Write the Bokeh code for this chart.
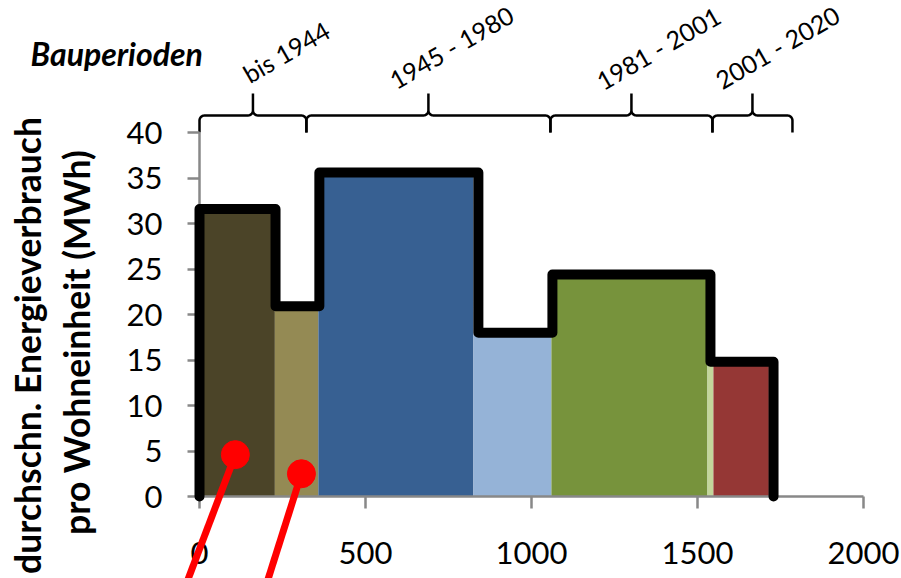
import numpy as np
from bokeh.plotting import figure
from bokeh.models import Range1d, FixedTicker, Label, Arrow, LinearAxis
from bokeh.core.properties import value
from bokeh.embed import file_html
from bokeh.resources import INLINE

# ---------------- data ----------------
# bar segments: x = cumulative number of dwelling units, height = avg. consumption (MWh)
bar_edges = [0, 227, 358, 825, 1060, 1530, 1548, 1715]
bar_heights = [31.6, 20.9, 35.6, 18.0, 24.4, 14.8, 14.8]
# black step outline
step_edges = [0, 229, 361, 840, 1063, 1539, 1729]
step_values = [31.6, 20.9, 35.6, 18.0, 24.4, 14.8]
# construction periods (braces on top)
period_labels = ["bis 1944", "1945 - 1980", "1981 - 2001", "2001 - 2020"]
period_edges = [0, 322, 1057, 1545, 1786]
# red markers
marker_x = [108, 307]
marker_y = [4.6, 2.5]
marker_end_x = [-47, 196]
marker_end_y = [-10.3, -10.3]
# ticks
x_ticks = [0, 500, 1000, 1500, 2000]
y_ticks = [0, 5, 10, 15, 20, 25, 30, 35, 40]

# ---------------- styles / layout ----------------
bar_colors = ["#4B4428", "#948A54", "#376092", "#95B3D7", "#77933C", "#C3D69B", "#953735"]
GRID = "#888888"
FONT = "Lato"

W, H = 901, 578
ORIG_X, ORIG_Y = 199, 496          # pixel position of data (0, 0)
KX = 664 / 2000.0                  # px per x unit
KY = 364 / 40.0                    # px per y unit
def dx(px):
    return (px - ORIG_X) / KX
def dy(py):
    return (ORIG_Y - py) / KY

p = figure(width=W, height=H, x_range=Range1d(dx(0), dx(W)), y_range=Range1d(dy(H), dy(0)),
           x_axis_type=None, y_axis_type=None,
           output_backend="svg", toolbar_location=None,
           min_border_left=0, min_border_right=0, min_border_top=0, min_border_bottom=0)
p.outline_line_color = None
p.background_fill_color = "white"
p.border_fill_color = "white"

xaxis = LinearAxis(ticker=FixedTicker(ticks=x_ticks), bounds=(0, 2000), fixed_location=0)
yaxis = LinearAxis(ticker=FixedTicker(ticks=y_ticks), bounds=(0, 40), fixed_location=0)
p.add_layout(xaxis, "below")
p.add_layout(yaxis, "left")
for ax in (xaxis, yaxis):
    ax.axis_line_color = GRID
    ax.axis_line_width = 2.5
    ax.major_tick_line_color = GRID
    ax.major_tick_line_width = 2.5
    ax.major_tick_out = 12
    ax.major_tick_in = 0
    ax.minor_tick_line_color = None
    ax.major_label_text_font = FONT
    ax.major_label_text_font_size = "31px"
    ax.major_label_text_color = "black"
xaxis.major_label_standoff = 33
yaxis.major_label_standoff = 25

p.xgrid.visible = False
p.ygrid.ticker = yaxis.ticker
p.ygrid.cross_bounds = (dx(186), 2000)
p.ygrid.grid_line_color = GRID
p.ygrid.grid_line_width = 2.5

# bars
p.quad(left=bar_edges[:-1], right=bar_edges[1:], bottom=0, top=bar_heights,
       fill_color=bar_colors, line_color=None, level="image")

# step outline
sx = [step_edges[0]]
sy = [0]
for i, v in enumerate(step_values):
    sx += [step_edges[i], step_edges[i + 1]]
    sy += [v, v]
sx.append(step_edges[-1])
sy.append(0)
p.line(sx, sy, line_color="black", line_width=10, line_join="round", line_cap="round", level="overlay")

# braces
y_base = 40
y_h = 40 + 17 / KY
y_tip = 40 + 39 / KY
rx, ry = 5 / KX, 5 / KY
def arc(cx, cy, a0, a1, n=8):
    t = np.linspace(a0, a1, n)
    return list(cx + rx * np.cos(t)), list(cy + ry * np.sin(t))
bxs, bys, tips = [], [], []
for i in range(len(period_labels)):
    x0, x1 = period_edges[i], period_edges[i + 1]
    xm = (x0 + x1) / 2
    tips.append(xm)
    xs, ys = [x0], [y_base]
    for (cx, cy, a0, a1) in [(x0 + rx, y_h - ry, np.pi, np.pi / 2),
                             (xm - rx, y_h + ry, -np.pi / 2, 0)]:
        ax_, ay_ = arc(cx, cy, a0, a1)
        xs += ax_; ys += ay_
    xs.append(xm); ys.append(y_tip)
    xs.append(xm); ys.append(y_h + ry)
    for (cx, cy, a0, a1) in [(xm + rx, y_h + ry, np.pi, 1.5 * np.pi),
                             (x1 - rx, y_h - ry, np.pi / 2, 0)]:
        ax_, ay_ = arc(cx, cy, a0, a1)
        xs += ax_; ys += ay_
    xs.append(x1); ys.append(y_base)
    bxs.append(xs); bys.append(ys)
p.multi_line(bxs, bys, line_color="black", line_width=2.5)

# period labels
p.text(x=tips, y=[y_tip] * len(tips), text=period_labels, angle=np.deg2rad(30),
       x_offset=[-8, -37, -33, -35], y_offset=[-18, -12, -11, -12],
       text_font=value(FONT), text_font_size="25px", text_color="black",
       text_align="left", text_baseline="alphabetic")

p.add_layout(Label(x=dx(30), y=dy(53), text="Bauperioden",
                   text_font=FONT, text_font_style="bold italic", text_font_size="32px",
                   text_color="black", text_baseline="alphabetic", text_align="left"))

# y title (two lines)
p.add_layout(Label(x=dx(27), y=dy(345), text="durchschn. Energieverbrauch",
                   angle=np.pi / 2, text_font=FONT, text_font_style="bold", text_font_size="35.5px",
                   text_color="black", text_align="center", text_baseline="alphabetic"))
p.add_layout(Label(x=dx(76), y=dy(342), text="pro Wohneinheit (MWh)",
                   angle=np.pi / 2, text_font=FONT, text_font_style="bold", text_font_size="35.5px",
                   text_color="black", text_align="center", text_baseline="alphabetic"))

# red markers
for x0, y0, x1, y1 in zip(marker_x, marker_y, marker_end_x, marker_end_y):
    p.add_layout(Arrow(x_start=x0, y_start=y0, x_end=x1, y_end=y1, end=None,
                       line_color="#FF0000", line_width=7, level="overlay"))
p.scatter(marker_x, marker_y, size=28, color="#FF0000", level="overlay")

open("out.html", "w").write(file_html(p, INLINE))
